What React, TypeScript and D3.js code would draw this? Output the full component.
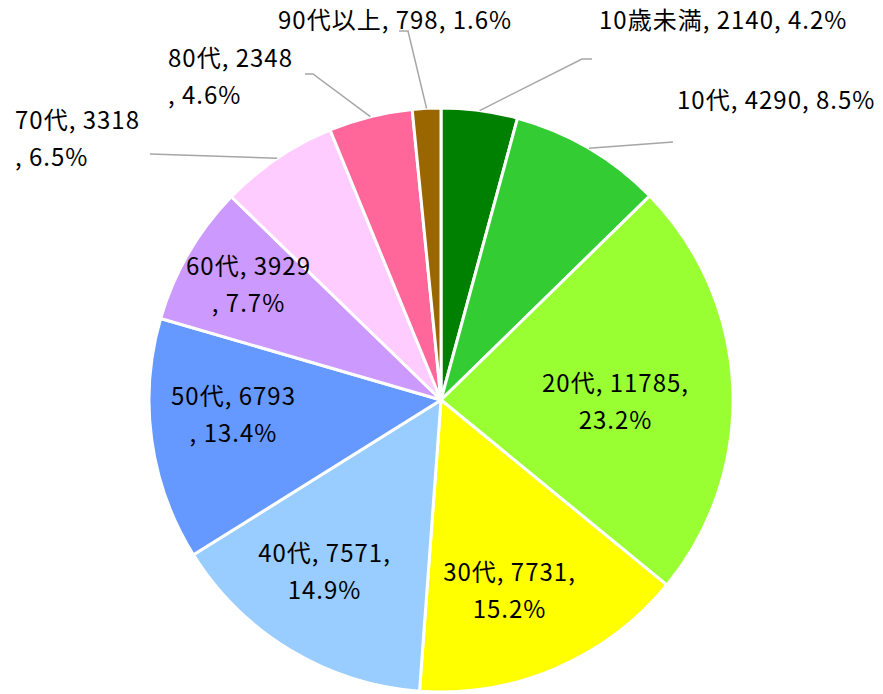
import React from 'react';
import * as d3 from 'd3';

const categories = ['10歳未満', '10代', '20代', '30代', '40代', '50代', '60代', '70代', '80代', '90代以上'];
const values = [2140, 4290, 11785, 7731, 7571, 6793, 3929, 3318, 2348, 798];
const percents = ['4.2%', '8.5%', '23.2%', '15.2%', '14.9%', '13.4%', '7.7%', '6.5%', '4.6%', '1.6%'];
const colors = ['#008000', '#33CC33', '#99FF33', '#FFFF00', '#99CCFF', '#6699FF', '#CC99FF', '#FFCCFF', '#FF6699', '#996600'];

// label layout: line splits, anchor, position of first baseline, optional leader (elbow, end)
type Lab = { lines: string[]; x: number; y: number; anchor: string; leader?: number[] };
const labelLayout = (i: number): Lab => {
  const c = categories[i], v = values[i], p = percents[i];
  switch (i) {
    case 0: return { lines: [`${c}, ${v}, ${p}`], x: 599, y: 29, anchor: 'start', leader: [582, 59, 592, 59] };
    case 1: return { lines: [`${c}, ${v}, ${p}`], x: 677, y: 109, anchor: 'start', leader: [673, 142, 673, 142] };
    case 2: return { lines: [`${c}, ${v},`, p], x: 615, y: 392, anchor: 'middle' };
    case 3: return { lines: [`${c}, ${v},`, p], x: 509, y: 581, anchor: 'middle' };
    case 4: return { lines: [`${c}, ${v},`, p], x: 324, y: 562, anchor: 'middle' };
    case 5: return { lines: [`${c}, ${v}`, `, ${p}`], x: 233, y: 405, anchor: 'middle' };
    case 6: return { lines: [`${c}, ${v}`, `, ${p}`], x: 248, y: 275, anchor: 'middle' };
    case 7: return { lines: [`${c}, ${v}`, `, ${p}`], x: 15, y: 129, anchor: 'start', leader: [150, 154, 150, 154] };
    case 8: return { lines: [`${c}, ${v}`, `, ${p}`], x: 168, y: 67, anchor: 'start', leader: [313, 74, 305, 74] };
    default: return { lines: [`${c}, ${v}, ${p}`], x: 278, y: 29, anchor: 'start', leader: [408, 31, 399, 31] };
  }
};

const App = () => {
  const width = 883, height = 694;
  const cx = 441, cy = 400, radius = 292;

  const pie = d3.pie<number>().sort(null).value(d => d);
  const arcs = pie(values);
  const arc = d3.arc<d3.PieArcDatum<number>>().innerRadius(0).outerRadius(radius);

  return (
    <svg width={width} height={height} style={{ position: 'absolute', left: 0, top: 0 }}>
      <rect width={width} height={height} fill="#ffffff" />
      <g transform={`translate(${cx},${cy})`}>
        {arcs.map((a, i) => (
          <path key={i} d={arc(a) || ''} fill={colors[i]} stroke="#ffffff" strokeWidth={3} strokeLinejoin="round" />
        ))}
      </g>
      {arcs.map((a, i) => {
        const lab = labelLayout(i);
        if (!lab.leader) return null;
        const mid = (a.startAngle + a.endAngle) / 2;
        const sx = cx + radius * Math.sin(mid), sy = cy - radius * Math.cos(mid);
        const [ex, ey, fx, fy] = lab.leader;
        return (
          <polyline key={'l' + i} points={`${sx},${sy} ${ex},${ey} ${fx},${fy}`} fill="none" stroke="#A6A6A6" strokeWidth={1.5} />
        );
      })}
      {arcs.map((a, i) => {
        const lab = labelLayout(i);
        const ls = 1.0;
        return (
          <text key={'t' + i} x={lab.x} y={lab.y} textAnchor={lab.anchor}
            style={{ fontFamily: '"Noto Sans CJK JP", sans-serif', fontSize: 24, letterSpacing: ls, fill: '#000000' }}>
            {lab.lines.map((l, k) => (
              <tspan key={k} x={lab.anchor === 'middle' ? lab.x + ls / 2 : lab.x} y={lab.y + k * 37}>{l}</tspan>
            ))}
          </text>
        );
      })}
    </svg>
  );
};

export default App;
